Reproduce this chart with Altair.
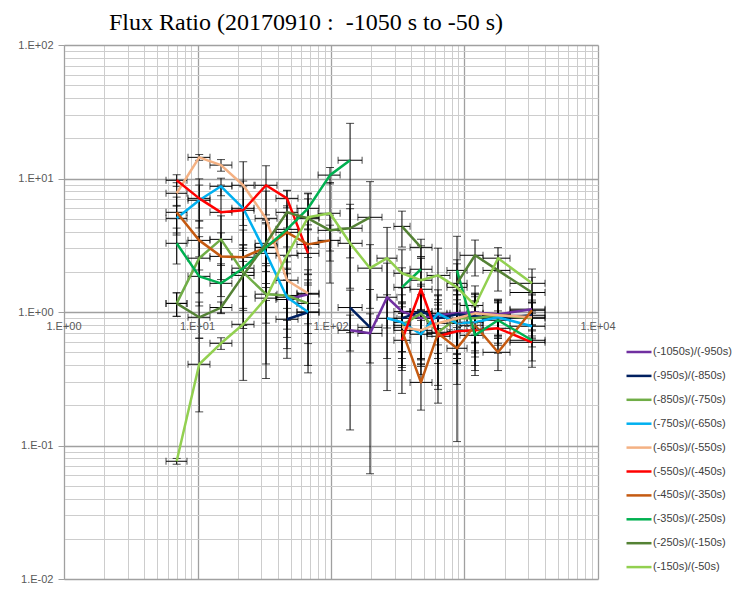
import altair as alt
import pandas as pd

# Energy bins (bin centre, lower edge, upper edge)
bin_x = [6.98, 10.3, 15.0, 22.0, 32.6, 46.8, 67.3, 98.3, 139, 196,
         263, 340, 472, 633, 879, 1199, 1782, 3205]
bin_lo = [5.81, 8.49, 12.4, 18.1, 27.0, 38.7, 55.6, 80.0, 113, 159,
          221, 296, 391, 524, 739, 925, 1376, 2193]
bin_hi = [8.34, 12.4, 18.1, 26.5, 39.4, 56.6, 81.3, 117, 171, 241,
          312, 391, 571, 778, 1045, 1376, 2193, 4010]

series_names = ["(-1050s)/(-950s)", "(-950s)/(-850s)", "(-850s)/(-750s)",
                "(-750s)/(-650s)", "(-650s)/(-550s)", "(-550s)/(-450s)",
                "(-450s)/(-350s)", "(-350s)/(-250s)", "(-250s)/(-150s)",
                "(-150s)/(-50s)"]
series_colors = ["#7030A0", "#002060", "#70AD47", "#00B0F0", "#F4B183",
                 "#FF0000", "#C55A11", "#00B050", "#548235", "#92D050"]

N = None
# Flux ratio per bin (None = no value in that bin)
r_1050 = [N, N, N, N, N, 1.24, 1.36, N, 0.729, 0.692, 1.29, 1.01, 0.897, 0.945, 0.977, 0.99, 0.96, 1.05]
r_950 = [N, N, N, N, N, 0.882, 0.995, N, 1.08, 0.768, N, 0.897, 1.01, 0.897, 0.96, 0.93, 0.897, 0.945]
r_850 = [1.16, 2.53, 3.50, 1.98, 1.36, 1.33, 1.16, N, N, N, N, 0.795, 0.977, 0.705, 0.897, 0.897, 0.945, 0.897]
r_750 = [5.03, 6.87, 8.74, 5.98, 2.75, 1.29, 1.0, N, N, N, 0.897, 0.837, 0.681, 0.977, 0.823, 0.837, 0.913, 0.782]
r_650 = [7.75, 14.4, 12.6, 8.9, 5.03, 1.73, 1.38, N, N, N, N, 0.768, 0.729, 0.823, 0.897, 0.977, 0.945, 0.913]
r_550 = [9.7, 7.1, 5.58, 5.78, 8.9, 7.1, 2.75, N, N, N, N, 0.614, 1.48, 0.658, 0.717, 0.729, 0.755, 0.593]
r_450 = [5.58, 3.44, 2.61, 2.57, 3.05, 3.95, 3.21, 3.44, N, N, N, 0.729, 0.297, 0.692, 0.535, 0.795, 0.499, 1.03]
r_350 = [3.27, 1.85, 1.64, 2.13, 3.05, 4.16, 5.98, 10.6, 13.7, N, N, 1.53, 2.09, N, 2.05, 0.669, 0.867, 0.614]
r_250 = [1.16, 0.913, 1.08, 1.88, 3.27, 5.58, 5.03, 4.09, 4.24, 5.12, N, 4.38, 3.05, N, 1.64, 2.66, 2.05, 1.40]
r_150 = [0.0762, 0.406, 0.583, 0.809, 1.27, 2.66, 5.12, 5.49, 3.27, 2.13, 2.53, 1.95, 1.73, 1.88, 1.53, 1.12, 2.53, 1.64]

# Relative 1-sigma error of each ratio
e_1050 = [N, N, N, N, N, 0.4, 0.4, N, 0.3, 0.4, 0.8, 0.5, 0.5, 0.4, 0.5, 0.4, 0.3, 0.3]
e_950 = [N, N, N, N, N, 0.49, 0.6, N, 0.35, 0.92, N, 0.5, 0.6, 0.5, 0.5, 0.45, 0.35, 0.3]
e_850 = [0.2, 0.45, 0.5, 0.6, 0.7, 0.6, 0.5, N, N, N, N, 0.5, 0.6, 0.6, 0.5, 0.45, 0.3, 0.3]
e_750 = [0.25, 0.3, 0.15, 0.6, 0.7, 0.5, 0.65, N, N, N, 0.5, 0.4, 0.5, 0.5, 0.5, 0.45, 0.3, 0.3]
e_650 = [0.2, 0.05, 0.1, 0.5, 0.6, 0.5, 0.5, N, N, N, N, 0.5, 0.4, 0.5, 0.5, 0.4, 0.3, 0.3]
e_550 = [0.1, 0.4, 0.6, 0.5, 0.4, 0.15, 0.5, N, N, N, N, 0.6, 0.7, 0.6, 0.6, 0.5, 0.35, 0.35]
e_450 = [0.3, 0.4, 0.5, 0.6, 0.5, 0.4, 0.4, 0.3, N, N, N, 0.5, 0.38, 0.7, 0.8, 0.5, 0.27, 0.3]
e_350 = [0.3, 0.4, 0.4, 0.5, 0.6, 0.5, 0.3, 0.14, 0.89, N, N, 0.4, 0.5, N, 0.8, 0.5, 0.35, 0.3]
e_250 = [0.2, 0.3, 0.1, 0.6, 0.5, 0.45, 0.4, 0.3, 0.4, 0.85, N, 0.3, 0.15, N, 0.5, 0.3, 0.3, 0.3]
e_150 = [0.05, 0.56, 0.1, 0.62, 0.75, 0.6, 0.5, 0.7, 0.96, 0.5, 0.7, 0.5, 0.5, 0.6, 0.5, 0.4, 0.2, 0.28]

ratios = [r_1050, r_950, r_850, r_750, r_650, r_550, r_450, r_350, r_250, r_150]
errors = [e_1050, e_950, e_850, e_750, e_650, e_550, e_450, e_350, e_250, e_150]

x_tick_values = [1, 10, 100, 1000, 10000]
x_tick_labels = ["1.E+00", "1.E+01", "1.E+02", "1.E+03", "1.E+04"]
y_tick_values = [0.01, 0.1, 1, 10, 100]
y_tick_labels = ["1.E-02", "1.E-01", "1.E+00", "1.E+01", "1.E+02"]

rows = []
for name, vals, errs in zip(series_names, ratios, errors):
    seg = 0
    for i, (v, e) in enumerate(zip(vals, errs)):
        if v is None:
            seg += 1
            continue
        rows.append({
            "series": name, "seg": f"{name}|{seg}",
            "x": bin_x[i], "xlo": bin_lo[i], "xhi": bin_hi[i],
            "v": v, "ylo": v * (1 - e), "yhi": v * (1 + e),
        })
df = pd.DataFrame(rows)

# gridlines at 1..9 x each decade
x_grid = [m * 10 ** k for k in range(0, 4) for m in range(1, 10)] + [10000]
y_grid = [m * 10.0 ** k for k in range(-2, 2) for m in range(1, 10)] + [100]

major = "abs(log(datum.value)/LN10 - round(log(datum.value)/LN10)) < 1e-6"
grid_color = alt.condition(major, alt.value("#a0a0a0"), alt.value("#cdcdcd"))
grid_width = alt.condition(major, alt.value(1.3), alt.value(1))

y_label_expr = " : ".join(
    f"abs(datum.value - {v}) < {v * 1e-6} ? '{lab}'" for v, lab in zip(y_tick_values, y_tick_labels)
) + " : ''"

xscale = alt.Scale(type="log", domain=[1, 10000], nice=False)
yscale = alt.Scale(type="log", domain=[0.01, 100], nice=False)
xaxis = alt.Axis(values=x_grid, grid=True, gridColor=grid_color, gridWidth=grid_width,
                 labels=False, ticks=False, domain=False, title=None)
yaxis = alt.Axis(values=y_grid, grid=True, gridColor=grid_color, gridWidth=grid_width,
                 labelExpr=y_label_expr, labelOverlap=False, labelFlush=False, labelBound=False,
                 tickSize=6, tickColor="#a0a0a0",
                 tickOpacity=alt.condition(major, alt.value(1), alt.value(0)),
                 domainColor="#a0a0a0", labelPadding=5, title=None)

base = alt.Chart(df)

vbars = base.mark_rule(color="black", strokeWidth=1).encode(
    x=alt.X("x:Q", scale=xscale, axis=xaxis),
    y=alt.Y("ylo:Q", scale=yscale, axis=yaxis),
    y2="yhi:Q",
)
vcap_lo = base.mark_tick(color="black", thickness=1, size=8, orient="horizontal").encode(
    x=alt.X("x:Q", scale=xscale, axis=xaxis), y=alt.Y("ylo:Q", scale=yscale, axis=yaxis))
vcap_hi = base.mark_tick(color="black", thickness=1, size=8, orient="horizontal").encode(
    x=alt.X("x:Q", scale=xscale, axis=xaxis), y=alt.Y("yhi:Q", scale=yscale, axis=yaxis))
hbars = base.mark_rule(color="black", strokeWidth=1).encode(
    x=alt.X("xlo:Q", scale=xscale, axis=xaxis),
    x2="xhi:Q",
    y=alt.Y("v:Q", scale=yscale, axis=yaxis),
)
hcap_lo = base.mark_tick(color="black", thickness=1, size=7, orient="vertical").encode(
    x=alt.X("xlo:Q", scale=xscale, axis=xaxis), y=alt.Y("v:Q", scale=yscale, axis=yaxis))
hcap_hi = base.mark_tick(color="black", thickness=1, size=7, orient="vertical").encode(
    x=alt.X("xhi:Q", scale=xscale, axis=xaxis), y=alt.Y("v:Q", scale=yscale, axis=yaxis))

lines = base.mark_line(strokeWidth=2.5, strokeJoin="round").encode(
    x=alt.X("x:Q", scale=xscale, axis=xaxis),
    y=alt.Y("v:Q", scale=yscale, axis=yaxis),
    color=alt.Color("series:N", scale=alt.Scale(domain=series_names, range=series_colors),
                    legend=alt.Legend(title=None, orient="none", legendX=561, legendY=293,
                                      symbolType="stroke", symbolSize=625, symbolStrokeWidth=2.5,
                                      labelFont="Liberation Sans", labelFontSize=11,
                                      labelColor="#404040", labelOffset=0, rowPadding=4.9,
                                      labelLimit=200)),
    detail="seg:N",
    order="x:Q",
)

xlab_df = pd.DataFrame({"x": x_tick_values, "y": [1] * len(x_tick_values), "label": x_tick_labels})
xlabels = alt.Chart(xlab_df).mark_text(font="Liberation Sans", fontSize=11, color="#595959",
                                       dy=15, align="center").encode(
    x=alt.X("x:Q", scale=xscale, axis=xaxis),
    y=alt.Y("y:Q", scale=yscale, axis=yaxis),
    text="label:N",
)

chart = alt.layer(vbars, vcap_lo, vcap_hi, hbars, hcap_lo, hcap_hi, lines, xlabels).properties(
    width=534, height=534,
    title=alt.TitleParams(text="Flux Ratio (20170910 :\u00a0 -1050 s to -50 s)", font="Liberation Serif",
                          fontSize=24, fontWeight="normal", color="#000000", anchor="middle",
                          frame="group", dx=-25, dy=27, offset=12, baseline="alphabetic"),
    padding={"left": 64, "top": 45, "right": 157, "bottom": 14},
    autosize=alt.AutoSizeParams(type="none"),
    background="white",
).configure_view(stroke=None).configure_axis(
    labelFont="Liberation Sans", labelFontSize=11, labelColor="#595959"
)

chart.save("out.html", embed_options={"renderer": "svg", "actions": False})
